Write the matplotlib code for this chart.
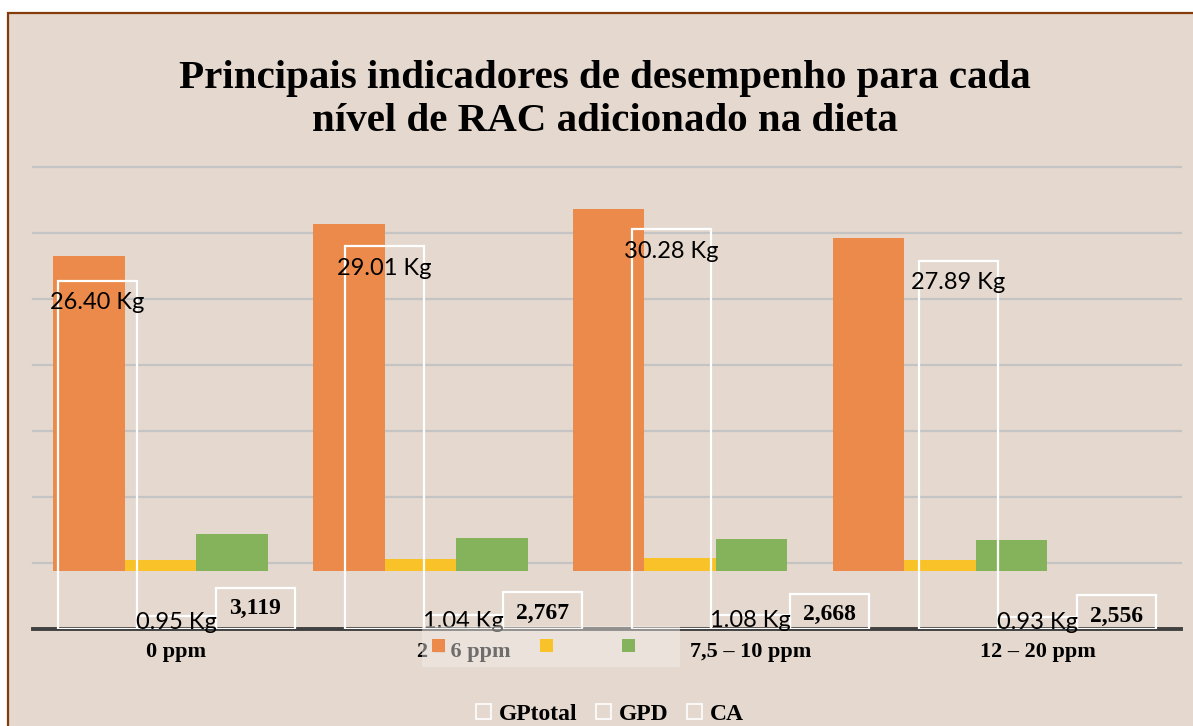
import matplotlib.pyplot as plt
from matplotlib.patches import Rectangle
import numpy as np

categories = ['0 ppm', '2 – 6 ppm', '7,5 – 10 ppm', '12 – 20 ppm']
gp_total = [26.40, 29.01, 30.28, 27.89]
gpd = [0.95, 1.04, 1.08, 0.93]
ca = [3.119, 2.767, 2.668, 2.556]
gp_total_labels = ['26.40 Kg', '29.01 Kg', '30.28 Kg', '27.89 Kg']
gpd_labels = ['0.95 Kg', '1.04 Kg', '1.08 Kg', '0.93 Kg']
ca_labels = ['3,119', '2,767', '2,668', '2,556']
series_names = ['GPtotal', 'GPD', 'CA']
title = 'Principais indicadores de desempenho para cada\nnível de RAC adicionado na dieta'

W, H = 1193, 726
BG = '#E5D8CE'
colors = ['#EB8A4B', '#F8C228', '#85B35B']
serif = 'Liberation Serif'
sans = 'Lato'


def px_box(x0, y0, x1, y1):
    return [x0 / W, 1 - y1 / H, (x1 - x0) / W, (y1 - y0) / H]


fig = plt.figure(figsize=(W / 100, H / 100), dpi=100, facecolor='white')
fig.patches.append(Rectangle((8 / W, -0.05), 1.2, 1.05 - 13 / H, transform=fig.transFigure,
                             facecolor=BG, edgecolor='#843C0C', lw=1.6, zorder=-10))

white_pos = px_box(33, 167, 1181, 629)
color_pos = px_box(30.6, 571 - 35 * 11.95, 1069.9, 571)

ax_base = fig.add_axes(white_pos, zorder=0)
ax_color = fig.add_axes(color_pos, zorder=1)
ax_white = fig.add_axes(white_pos, zorder=2)

x = np.arange(len(categories))
w = 0.275

for ax in (ax_base, ax_color, ax_white):
    ax.set_facecolor('none')
    ax.set_xlim(-0.5, len(categories) - 0.5)
    ax.set_ylim(0, 35)
    for s in ax.spines.values():
        s.set_visible(False)
    ax.set_yticks([])
    ax.set_xticks([])

# gridlines of the outlined chart
for v in range(5, 40, 5):
    ax_base.axhline(v, color='#C4C4C4', lw=1.6, clip_on=False)

# coloured chart (underneath)
color_bars = []
for i, vals in enumerate([gp_total, gpd, ca]):
    b = ax_color.bar(x + (i - 1) * w, vals, w, color=colors[i], label=series_names[i])
    color_bars.append(b)

# outlined chart (on top)
ax_white.axhline(0, color='#404040', lw=2.8, zorder=1, clip_on=False)
for i, vals in enumerate([gp_total, gpd, ca]):
    ax_white.bar(x + (i - 1) * w, vals, w, fill=False, edgecolor='white', lw=1.6, zorder=2)

for xi, v, lbl in zip(x, gp_total, gp_total_labels):
    ax_white.annotate(lbl, (xi - w, v), xytext=(0, -22), textcoords='offset pixels',
                      ha='center', va='center', fontsize=17, family=sans, zorder=3)
for xi, v, lbl in zip(x, gpd, gpd_labels):
    ax_white.annotate(lbl, (xi, v), xytext=(0, -6), textcoords='offset pixels',
                      ha='center', va='center', fontsize=17, family=sans, zorder=3)
for xi, v, lbl in zip(x, ca, ca_labels):
    ax_white.annotate(lbl, (xi + w, v), xytext=(0, -21), textcoords='offset pixels',
                      ha='center', va='center', fontsize=17, family=serif,
                      weight='bold', zorder=3)

ax_white.set_xticks(x, categories)
ax_white.tick_params(axis='x', length=0, pad=9)
for t in ax_white.get_xticklabels():
    t.set_fontfamily(serif)
    t.set_fontweight('bold')
    t.set_fontsize(16)

fig.text(605 / W, 1 - 100 / H, title, ha='center', va='center', fontsize=29.5,
         weight='bold', family=serif, linespacing=1.18)

# legend of the coloured chart, labels hidden as in the original
leg1 = fig.legend(handles=color_bars, labels=series_names, loc='center',
                  bbox_to_anchor=(551 / W, 1 - 646.5 / H), ncol=3,
                  prop={'family': sans, 'size': 14.8}, handlelength=0.63, handleheight=0.63,
                  handletextpad=0.35, columnspacing=0.92, fancybox=False,
                  frameon=True, borderpad=0.5, facecolor=(0.953, 0.933, 0.922),
                  edgecolor='none', framealpha=0.46)
for t in leg1.get_texts():
    t.set_alpha(0)

# legend of the outlined chart
handles = [Rectangle((0, 0), 1, 1, facecolor='none', edgecolor='white', lw=1.2) for _ in series_names]
fig.legend(handles=handles, labels=series_names, loc='center',
           bbox_to_anchor=(610 / W, 1 - 714 / H), ncol=3, frameon=False,
           prop={'family': serif, 'weight': 'bold', 'size': 17},
           handlelength=0.62, handleheight=0.62, handletextpad=0.34,
           columnspacing=0.8)

fig.savefig('out.png', dpi=100, facecolor='white')
